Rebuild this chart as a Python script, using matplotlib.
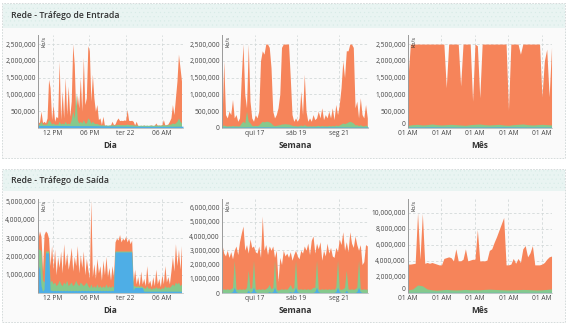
import numpy as np
import matplotlib
matplotlib.use("Agg")
import matplotlib.pyplot as plt
from matplotlib.patches import Rectangle
from matplotlib.ticker import FuncFormatter

plt.rcParams['font.family'] = ['Open Sans', 'DejaVu Sans']
plt.rcParams['hatch.linewidth'] = 0.3

ORANGE = '#f6845a'
GREEN = '#86c98c'
BLUE = '#4eaee6'

# ---------------- data (values in thousands of kb/s) ----------------
# Entrada - Dia (15 min samples starting 09:30)
dia_in_total = [150, 180, 500, 160, 200, 150, 300, 1450, 1200, 250, 700, 200, 350, 300, 2000, 250,
                1100, 300, 1500, 400, 1250, 350, 800, 2500, 1900, 400, 1000, 600, 1500, 500, 2100, 700,
                900, 2450, 2300, 800, 1600, 900, 500, 700, 250, 300, 100, 350, 80, 90, 70, 80,
                90, 200, 100, 120, 230, 300, 220, 230, 220, 240, 230, 550, 230, 220, 230, 200,
                90, 200, 80, 70, 80, 70, 90, 70, 80, 70, 80, 90, 70, 80, 150, 80,
                90, 80, 100, 250, 90, 100, 120, 200, 300, 700, 400, 900, 1400, 2200, 1800, 1400]
dia_in_green = [110, 120, 200, 110, 120, 110, 130, 250, 200, 120, 150, 110, 120, 110, 200, 120,
                150, 120, 200, 120, 150, 120, 250, 500, 300, 1050, 250, 150, 200, 150, 250, 150,
                150, 300, 250, 150, 200, 150, 130, 140, 110, 100, 90, 100, 85, 90, 85, 90,
                90, 100, 90, 90, 100, 110, 100, 100, 100, 100, 100, 120, 100, 100, 100, 90,
                85, 90, 80, 80, 85, 80, 85, 80, 85, 80, 85, 85, 80, 85, 90, 85,
                85, 85, 90, 100, 90, 90, 100, 110, 120, 150, 130, 150, 200, 300, 200, 150]
dia_in_blue = [75, 75, 70, 70, 60, 55, 50, 50, 55]          # every 3 h

# Entrada - Semana (2 h samples)
sem_in_total = [200, 2000, 400, 300, 500, 400, 850, 300, 400, 200, 300, 1500, 2500, 1000, 600, 2500,
                800, 300, 200, 400, 300, 500, 2000, 2300, 2200, 2500, 2500, 2400, 1800, 500, 300, 400,
                600, 1000, 2400, 2500, 2500, 2500, 2500, 1500, 400, 200, 300, 200, 300, 1100, 400, 1600,
                500, 200, 300, 200, 400, 250, 300, 500, 300, 600, 250, 400, 300, 500, 300, 600,
                250, 700, 400, 700, 1200, 2000, 1500, 2300, 2300, 2500, 2500, 2400, 600, 800, 300, 900,
                400, 300, 700, 300]
sem_in_green = [70, 90, 70, 60, 70, 60, 80, 60, 70, 60, 70, 150, 200, 150, 500, 200,
                150, 80, 70, 80, 70, 90, 150, 200, 180, 200, 200, 180, 150, 90, 70, 80,
                90, 100, 120, 120, 130, 120, 120, 100, 80, 70, 70, 60, 70, 90, 70, 100,
                70, 60, 70, 60, 70, 60, 70, 80, 60, 80, 60, 70, 60, 80, 60, 80,
                60, 90, 70, 90, 120, 150, 130, 150, 180, 200, 180, 150, 90, 100, 70, 100,
                70, 60, 90, 60]
sem_in_blue = [30, 30, 35, 30, 30, 35, 30, 30]              # daily

# Entrada - Mês (12 h samples)
mes_in_total = [1500, 2500, 2500, 2500, 2500, 2500, 2500, 2500, 2500, 2500, 2500, 2500, 2500, 2500, 2500, 2500,
                1200, 2500, 2500, 2500, 2500, 2500, 1250, 2500, 2500, 2500, 2500, 800, 2500, 2450,
                900, 2500, 2500, 2500, 2500, 2500, 2500, 2500, 2500, 2500, 2500, 2500, 530, 2500, 2500, 2500,
                2500, 2200, 2500, 2500, 2500, 2500, 2500, 2500, 2500, 2500, 930, 2000, 2350, 930, 2400]
mes_in_green = [80, 100, 110, 90, 100, 120, 100, 90, 100, 110, 100, 90, 80, 100, 110, 120,
                100, 90, 100, 110, 90, 80, 100, 110, 120, 100, 90, 100, 110, 100, 90]   # daily
mes_in_blue = [30, 35, 30, 30, 35, 30, 30]                  # every 5 days

# Saída - Dia (15 min samples)
dia_out_total = [3000, 3400, 3100, 1200, 3200, 3400, 3300, 3000, 1500, 2600, 1300, 2400, 1000, 2000, 1400, 2300,
                 1100, 2700, 1500, 2200, 1300, 1800, 2500, 1200, 2000, 1500, 2600, 1100, 2100, 1400, 2300, 1000,
                 1900, 1300, 800, 5100, 900, 1600, 800, 1900, 1100, 1500, 700, 1800, 1000, 2000, 900, 1400,
                 700, 1500, 900, 2800, 3000, 2900, 3200, 2800, 3000, 2900, 3100, 2800, 3000, 2700, 2900, 600,
                 1300, 500, 900, 400, 1200, 500, 800, 400, 1500, 500, 700, 350, 900, 400, 1300, 500,
                 800, 350, 1000, 500, 1500, 600, 900, 500, 1200, 2000, 1200, 2700, 1500, 2400, 1300, 2600]
dia_out_green = [2400, 2400, 2300, 700, 600, 2300, 2300, 2300, 600, 700, 500, 600, 400, 500, 700, 500,
                 400, 600, 500, 700, 400, 500, 600, 400, 500, 700, 500, 400, 600, 500, 400, 500,
                 600, 400, 300, 500, 300, 400, 300, 500, 300, 400, 300, 400, 300, 500, 300, 400,
                 300, 400, 300, 2300, 2300, 2300, 2300, 2300, 2300, 2300, 2300, 2300, 2300, 2300, 2300, 400,
                 400, 350, 400, 350, 400, 350, 300, 250, 400, 250, 300, 200, 300, 250, 350, 250,
                 300, 200, 300, 250, 400, 300, 350, 300, 400, 500, 400, 600, 500, 600, 400, 500]
dia_out_blue = [1200, 1500, 400, 100, 200, 2200, 2200, 2200, 150, 150, 120, 150, 120, 150, 120, 150,
                120, 150, 120, 150, 120, 150, 120, 150, 120, 150, 120, 150, 120, 150, 120, 150,
                120, 150, 120, 150, 120, 150, 120, 150, 120, 150, 120, 150, 120, 150, 120, 150,
                120, 150, 120, 2250, 2250, 2250, 2250, 2250, 2250, 2250, 2250, 2250, 2250, 2250, 2250, 150,
                300, 300, 300, 300, 300, 300, 100, 100, 100, 100, 100, 100, 100, 100, 100, 100,
                100, 100, 100, 100, 100, 100, 100, 100, 100, 100, 100, 100, 100, 100, 100, 100]

# Saída - Semana (2 h samples)
sem_out_total = [3400, 2800, 2600, 3000, 2500, 2900, 2400, 3000, 3300, 2700, 3600, 4200, 4700, 3000, 3400, 2800,
                 3800, 3200, 3300, 2900, 2800, 3300, 2500, 5400, 3000, 3400, 2700, 3300, 3000, 3300, 2500, 3000,
                 800, 2500, 2000, 3000, 2600, 2800, 2500, 2900, 2300, 2700, 3000, 2600, 2400, 3000, 2800, 3300,
                 3000, 3500, 2700, 3700, 4000, 2800, 3500, 3100, 3600, 2300, 3000, 2600, 3500, 2800, 3200, 2600,
                 2500, 3200, 2900, 3800, 3400, 4300, 3000, 3600, 2900, 4300, 3500, 3200, 4000, 3400, 3000, 3400,
                 2000, 2200, 3400, 3300]
sem_out_green = [250, 300, 250, 300, 250, 300, 400, 2300, 300, 250, 300, 250, 300, 250, 400, 1600,
                 300, 400, 2300, 300, 250, 300, 250, 300, 250, 300, 400, 600, 300, 400, 2300, 300,
                 200, 250, 300, 250, 300, 250, 400, 600, 300, 400, 2300, 300, 250, 300, 250, 300,
                 250, 300, 250, 300, 400, 400, 2300, 300, 250, 300, 250, 300, 250, 300, 250, 300,
                 250, 400, 2300, 300, 250, 300, 400, 1600, 300, 250, 300, 250, 300, 400, 2300, 300,
                 250, 300, 250, 300]
sem_out_blue = [40, 40, 40, 40, 40, 40, 100, 400, 100, 40, 40, 40, 40, 40, 40, 200,
                40, 100, 400, 100, 40, 40, 40, 40, 40, 40, 40, 100, 40, 100, 400, 100,
                40, 40, 40, 40, 40, 40, 40, 100, 40, 100, 400, 100, 40, 40, 40, 40,
                40, 40, 40, 40, 40, 100, 400, 100, 40, 40, 40, 40, 40, 40, 40, 40,
                40, 100, 400, 100, 40, 40, 40, 200, 40, 40, 40, 40, 40, 100, 400, 100,
                40, 40, 40, 40]

# Saída - Mês (12 h samples)
mes_out_total = [3600, 3600, 3650, 3700, 10000, 4200, 9900, 3700, 3800, 3700, 3800, 3700, 3600, 3500, 3500, 4300,
                 4400, 4500, 4400, 4000, 5500, 4000, 4000, 4200, 5500, 4000, 4100, 4200, 4200, 7900, 4000, 4000,
                 4000, 4100, 5300, 5500, 6300, 7000, 7800, 8600, 9400, 3500, 3500, 3600, 4300, 3700, 4300, 3800,
                 5500, 5900, 4500, 5000, 5900, 3500, 3500, 3500, 3600, 3800, 4200, 4500, 4600]
mes_out_green = [400, 500, 1000, 900, 500, 400, 350, 400, 450, 400, 380, 400, 450, 400, 420, 400,
                 450, 480, 450, 420, 400, 380, 400, 420, 450, 430, 400, 380, 400, 450, 500]   # daily
mes_out_blue = [80, 90, 80, 80, 90, 80, 80]                 # every 5 days

# axis texts
dia_ticks = [12, 18, 24, 30]
dia_labels = ['12 PM', '06 PM', 'ter 22', '06 AM']
sem_ticks = [17, 19, 21]
sem_labels = ['qui 17', 'sáb 19', 'seg 21']
mes_ticks = [0, 7, 14, 21, 28]
mes_labels = ['01 AM', '01 AM', '01 AM', '01 AM', '01 AM']
panel_titles = ['Rede - Tráfego de Entrada', 'Rede - Tráfego de Saída']
col_titles = ['Dia', 'Semana', 'Mês']
unit = 'kb/s'

# ---------------- figure ----------------
W, H = 567, 327
fig = plt.figure(figsize=(W / 100, H / 100), dpi=100)
fig.patch.set_facecolor('white')


def fx(px):
    return px / W


def fy(py):
    return 1 - py / H


def panel(top, bottom, head_bottom, title):
    fig.add_artist(Rectangle((fx(2), fy(bottom)), fx(563), (bottom - top) / H,
                             transform=fig.transFigure, facecolor='#fafafa',
                             edgecolor='#cfd6d6', lw=0.6, ls=(0, (2, 1.5)), zorder=0))
    fig.add_artist(Rectangle((fx(2.5), fy(head_bottom)), fx(562), (head_bottom - top - 0.5) / H,
                             transform=fig.transFigure, facecolor='#e9f4f2',
                             edgecolor='#d7ebe7', hatch='....', lw=0, zorder=0.5))
    fig.text(fx(11), fy((top + head_bottom) / 2 + 0.5), title, fontsize=6.3,
             fontweight='semibold', color='#333333', va='center', ha='left')


panel(3, 158, 28, panel_titles[0])
panel(169, 322, 191, panel_titles[1])

fmt = FuncFormatter(lambda v, p: f"{int(round(v)):,}")


def series_t(start, step, vals):
    return start + step * np.arange(len(vals))


def draw(rect, xlim, ylim, yticks, xticks, xlabels, xlabel, series, lift_zero=False):
    l, r, t, b = rect
    ax = fig.add_axes([fx(l), fy(b), fx(r - l), (b - t) / H])
    ax.set_facecolor('none')
    for (start, step, vals, color) in series:
        tt = series_t(start, step, vals)
        ax.fill_between(tt, 0, np.array(vals) * 1000.0, color=color, lw=0, zorder=2)
    ax.set_xlim(*xlim)
    ax.set_ylim(*ylim)
    ax.set_yticks(yticks)
    ax.yaxis.set_major_formatter(fmt)
    ax.set_xticks(xticks)
    ax.set_xticklabels(xlabels)
    ax.grid(True, color='#d3d9d9', lw=0.6, ls=(0, (3, 2.5)), zorder=1)
    ax.set_axisbelow(True)
    for s in ['top', 'right']:
        ax.spines[s].set_visible(False)
    ax.spines['left'].set_color('#9a9a9a')
    ax.spines['left'].set_linewidth(0.7)
    ax.spines['bottom'].set_color('#c8c8c8')
    ax.spines['bottom'].set_linewidth(0.6)
    ax.tick_params(axis='both', labelsize=4.8, colors='#444444', length=0, pad=1.5)
    ax.set_xlabel(xlabel, fontsize=6, fontweight='bold', color='#333333', labelpad=3)
    ax.text(0.025, 0.99, unit, transform=ax.transAxes, rotation=90, fontsize=4,
            va='top', ha='left', color='#333333', zorder=5)
    if lift_zero:
        fig.canvas.draw()
        ax.get_yticklabels()[0].set_va('bottom')
    return ax


# top row
draw((38, 183, 35, 128), (9.5, 33.5), (0, 2.77e6),
     [500000, 1000000, 1500000, 2000000, 2500000], dia_ticks, dia_labels, col_titles[0],
     [(9.5, 0.25, dia_in_total, ORANGE), (9.5, 0.25, dia_in_green, GREEN), (9.5, 3.0, dia_in_blue, BLUE)])
draw((222, 368, 35, 128), (15.45, 22.4), (0, 2.77e6),
     [0, 500000, 1000000, 1500000, 2000000, 2500000], sem_ticks, sem_labels, col_titles[1],
     [(15.45, 1 / 12, sem_in_total, ORANGE), (15.45, 1 / 12, sem_in_green, GREEN), (15.45, 1.0, sem_in_blue, BLUE)])
draw((408, 552, 35, 128), (0, 30.1), (0, 2.77e6),
     [0, 500000, 1000000, 1500000, 2000000, 2500000], mes_ticks, mes_labels, col_titles[2],
     [(0, 0.5, mes_in_total, ORANGE), (0, 1.0, mes_in_green, GREEN), (0, 5.0, mes_in_blue, BLUE)],
     lift_zero=True)

# bottom row
draw((38, 183, 199, 293), (9.5, 33.5), (0, 5.15e6),
     [1000000, 2000000, 3000000, 4000000, 5000000], dia_ticks, dia_labels, col_titles[0],
     [(9.5, 0.25, dia_out_total, ORANGE), (9.5, 0.25, dia_out_green, GREEN), (9.5, 0.25, dia_out_blue, BLUE)])
draw((222, 368, 199, 293), (15.45, 22.4), (0, 6.6e6),
     [0, 1000000, 2000000, 3000000, 4000000, 5000000, 6000000], sem_ticks, sem_labels, col_titles[1],
     [(15.45, 1 / 12, sem_out_total, ORANGE), (15.45, 1 / 12, sem_out_green, GREEN), (15.45, 1 / 12, sem_out_blue, BLUE)])
draw((408, 552, 199, 293), (0, 30.1), (0, 11.7e6),
     [0, 2000000, 4000000, 6000000, 8000000, 10000000], mes_ticks, mes_labels, col_titles[2],
     [(0, 0.5, mes_out_total, ORANGE), (0, 1.0, mes_out_green, GREEN), (0, 5.0, mes_out_blue, BLUE)],
     lift_zero=True)

fig.savefig('out.png', dpi=100, facecolor='white')
